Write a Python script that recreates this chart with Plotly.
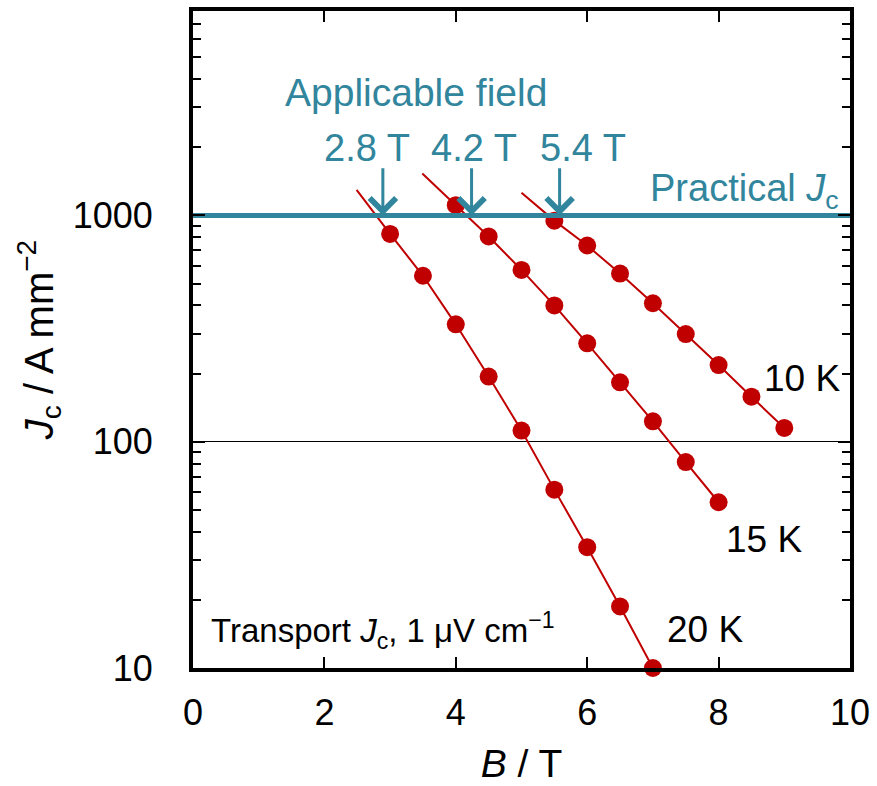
import plotly.graph_objects as go
import numpy as np

# Data
B_10K = [5.5, 6.0, 6.5, 7.0, 7.5, 8.0, 8.5, 9.0]
Jc_10K = [948, 736, 553, 409, 299, 218, 158, 115]
B_15K = [4.0, 4.5, 5.0, 5.5, 6.0, 6.5, 7.0, 7.5, 8.0]
Jc_15K = [1109, 807, 574, 400, 272, 183, 123, 81.3, 54]
B_20K = [3.0, 3.5, 4.0, 4.5, 5.0, 5.5, 6.0, 6.5, 7.0]
Jc_20K = [828, 541, 330, 194, 112, 61.4, 34.2, 18.7, 10]

# fitted-line start points (extension beyond the first data point)
fit_start_B = {"10 K": 5.0, "15 K": 3.49, "20 K": 2.49}
fit_start_J = {"10 K": 1260, "15 K": 1531, "20 K": 1295}

practical_Jc = 1000
applicable_B = [2.89, 4.24, 5.58]
applicable_labels = ["2.8 T", "4.2 T", "5.4 T"]
applicable_label_B = [2.65, 4.28, 5.93]

RED = "#C00000"
TEAL = "#31859C"
FONT = "Liberation Sans, Arial, sans-serif"

fig = go.Figure()

series = [("10 K", B_10K, Jc_10K), ("15 K", B_15K, Jc_15K), ("20 K", B_20K, Jc_20K)]
for name, bx, jy in series:
    fig.add_trace(go.Scatter(
        x=[fit_start_B[name]] + bx, y=[fit_start_J[name]] + jy,
        mode="lines", line=dict(color=RED, width=2), showlegend=False,
        hoverinfo="skip", cliponaxis=False))
for name, bx, jy in series:
    fig.add_trace(go.Scatter(
        x=bx, y=jy, mode="markers", name=name,
        marker=dict(color=RED, size=18, line=dict(width=0)),
        showlegend=False, cliponaxis=False))

# practical Jc line
fig.add_trace(go.Scatter(x=[0, 10], y=[practical_Jc, practical_Jc], mode="lines",
                         line=dict(color=TEAL, width=5), showlegend=False,
                         hoverinfo="skip"))

ann = []
tail_log = 3.215
for b in applicable_B:
    ann.append(dict(x=b, y=np.log10(practical_Jc), ax=b, ay=tail_log,
                    xref="x", yref="y", axref="x", ayref="y", text="",
                    showarrow=True, arrowhead=4, arrowsize=1.7, arrowwidth=3,
                    arrowcolor=TEAL))
for b, lab in zip(applicable_label_B, applicable_labels):
    ann.append(dict(x=b, y=np.log10(1990), xref="x", yref="y", text=lab,
                    showarrow=False, font=dict(color=TEAL, size=38, family=FONT),
                    xanchor="center", yanchor="middle"))
ann.append(dict(x=3.40, y=np.log10(3500), xref="x", yref="y", text="Applicable field",
                showarrow=False, font=dict(color=TEAL, size=39, family=FONT),
                xanchor="center", yanchor="middle"))
ann.append(dict(x=9.86, y=np.log10(1280), xref="x", yref="y",
                text="Practical <i>J</i><sub>c</sub>",
                showarrow=False, font=dict(color=TEAL, size=38, family=FONT),
                xanchor="right", yanchor="middle"))
for lab, bx, jy in [("10 K", 9.27, 191), ("15 K", 8.69, 37.1), ("20 K", 7.79, 14.8)]:
    ann.append(dict(x=bx, y=np.log10(jy), xref="x", yref="y", text=lab,
                    showarrow=False, font=dict(color="black", size=37, family=FONT),
                    xanchor="center", yanchor="middle"))
ann.append(dict(x=0.24, y=np.log10(14.6), xref="x", yref="y",
                text="Transport <i>J</i><sub>c</sub>, 1 μV cm<sup>−1</sup>",
                showarrow=False, font=dict(color="black", size=33, family=FONT),
                xanchor="left", yanchor="middle"))

fig.update_layout(
    width=877, height=786,
    margin=dict(l=193, r=23, t=7, b=116),
    paper_bgcolor="white", plot_bgcolor="white",
    font=dict(family=FONT, color="black", size=36),
    annotations=ann,
    xaxis=dict(range=[0, 10], dtick=2, showline=True, linecolor="black", linewidth=4,
               mirror="ticks", ticks="inside", ticklen=11, tickwidth=2, tickcolor="black",
               showgrid=False, zeroline=False, tickfont=dict(size=36),
               ticklabelstandoff=10,
               title=dict(text="<i>B</i> / T", font=dict(size=39), standoff=18)),
    yaxis=dict(type="log", range=[1, np.log10(8000)], dtick=1, showline=True,
               linecolor="black", linewidth=4, mirror="ticks", ticks="inside",
               ticklen=12, tickwidth=2, tickcolor="black",
               showgrid=True, gridcolor="black", gridwidth=1, zeroline=False,
               tickfont=dict(size=36), ticklabelstandoff=29,
               minor=dict(ticks="inside", ticklen=8, tickwidth=2, tickcolor="black",
                          dtick="D1", showgrid=False),
               title=dict(text="<i>J</i><sub>c</sub> / A mm<sup>−2</sup>",
                          font=dict(size=40), standoff=8)),
)

fig.write_html("out.html")
